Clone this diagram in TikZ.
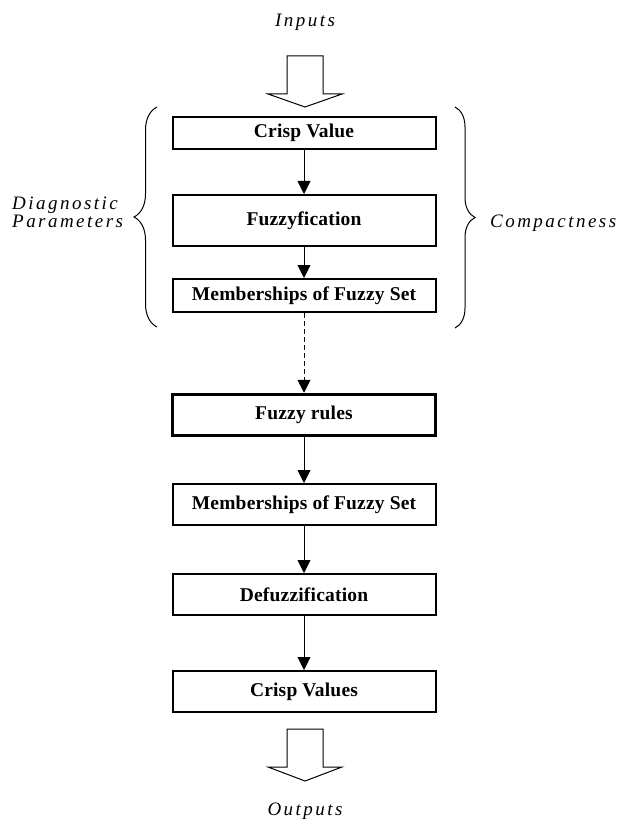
\documentclass[tikz,border=0pt]{standalone}
\usepackage{fontspec}
\setmainfont{Liberation Serif}
\newfontfamily\lblfont[LetterSpace=13]{Liberation Serif}
\newfontfamily\boxfont[LetterSpace=1]{Liberation Serif}
\usetikzlibrary{decorations.pathreplacing,arrows.meta}
\begin{document}
\begin{tikzpicture}[x=1pt,y=-1pt,
  stagebox/.style={draw, line width=2pt, minimum width=263pt, inner sep=0pt,
    font=\boxfont\bfseries\fontsize{19.5}{21}\selectfont},
  lbl/.style={inner sep=0pt, font=\lblfont\itshape\fontsize{19}{18}\selectfont},
  arr/.style={-{Triangle[length=13pt,width=13pt]}, line width=0.9pt},
  blockarrow/.style={draw, line width=1pt, line join=miter},
  bracestyle/.style={line width=1pt, decorate}
]
\useasboundingbox (0,0) rectangle (626,821);

\node[stagebox, minimum height=32pt] (cv) at (304,133) {Crisp Value};
\node[stagebox, minimum height=51pt] (fz) at (304,220.5) {Fuzzyfication};
\node[stagebox, minimum height=33pt] (m1) at (304,295.5) {Memberships of Fuzzy Set};
\node[stagebox, line width=3.5pt, minimum height=41pt] (fr) at (304,415) {Fuzzy rules};
\node[stagebox, minimum height=41pt] (m2) at (304,504.5) {Memberships of Fuzzy Set};
\node[stagebox, minimum height=41pt] (dz) at (304,594.5) {Defuzzification};
\node[stagebox, minimum height=41pt] (cvs) at (304,691.5) {Crisp Values};

\draw[arr] (cv) -- (fz);
\draw[arr] (fz) -- (m1);
\draw[arr, dash pattern=on 5pt off 3pt] (m1) -- (fr);
\draw[arr] (fr) -- (m2);
\draw[arr] (m2) -- (dz);
\draw[arr] (dz) -- (cvs);

% block arrows
\draw[blockarrow] (287,56) -- (323,56) -- (323,94) -- (342,94) -- (305,107) -- (268,94) -- (287,94) -- cycle;
\draw[blockarrow] (287,729) -- (323,729) -- (323,767) -- (342,767) -- (305,781) -- (268,767) -- (287,767) -- cycle;

\node[lbl, anchor=base] (in) at (305,27) {Inputs};
\node[lbl, anchor=base] (out) at (305,815) {Outputs};
\node[lbl, anchor=base west, align=left] (dp) at (12,227) {Diagnostic\\Parameters};
\node[lbl, anchor=base west] (cp) at (490,227) {Compactness};

% braces
\draw[bracestyle, decoration={brace, amplitude=23pt}] (157,327) -- (157,107);
\draw[bracestyle, decoration={brace, amplitude=20pt}] (455,107) -- (455,328);
\end{tikzpicture}
\end{document}
